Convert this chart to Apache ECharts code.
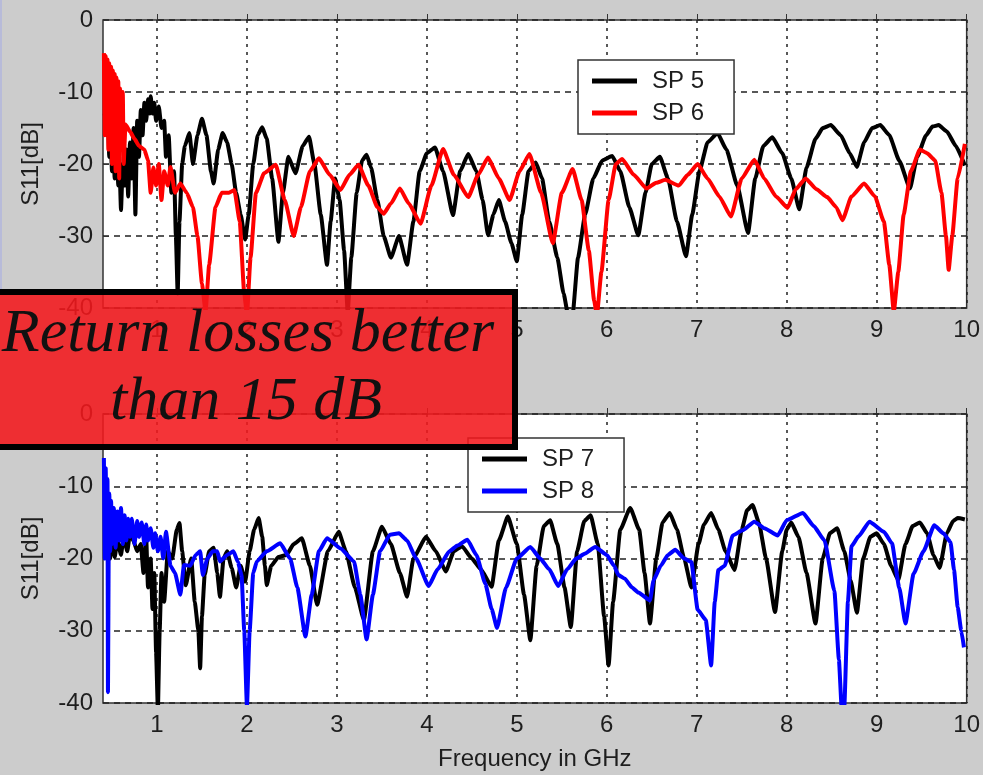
<!DOCTYPE html>
<html>
<head>
<meta charset="utf-8">
<script src="https://cdn.jsdelivr.net/npm/echarts@6/dist/echarts.min.js"></script>
<style>
html, body { margin: 0; padding: 0; background: #cccccc; }
#chart { width: 983px; height: 775px; }
</style>
</head>
<body>
<div id="chart"></div>
<script>
// tick labels
const xTicks = [1, 2, 3, 4, 5, 6, 7, 8, 9, 10]
const yTicks = [-40, -30, -20, -10, 0]

// top panel: SP 5 (black), SP 6 (red)  [GHz, dB]
const sp5 = [
  [0.42,-13],[0.44,-16],[0.45,-12.5],[0.47,-19],[0.48,-15],[0.50,-21],[0.51,-16],[0.53,-22],[0.55,-17],[0.57,-23],
  [0.58,-19],[0.60,-26.4],[0.62,-20],[0.64,-23],[0.66,-18],[0.68,-24.5],[0.70,-17],[0.72,-22],[0.74,-15],[0.76,-27],
  [0.78,-14],[0.80,-19],[0.82,-12.5],[0.84,-16],[0.86,-11.5],[0.88,-14],[0.90,-11],[0.92,-13],[0.93,-10.6],[0.95,-13],
  [0.97,-11.5],[0.99,-14],[1.02,-12],[1.05,-15],[1.08,-14],[1.10,-19],[1.13,-16],[1.16,-24],[1.19,-21],[1.21,-30],
  [1.23,-38],[1.25,-28],[1.28,-20],[1.31,-17.5],[1.36,-15.7],[1.40,-20],[1.45,-16],[1.50,-13.7],[1.55,-16],[1.60,-21],
  [1.63,-22.7],[1.68,-18],[1.73,-15.7],[1.78,-17],[1.83,-20],[1.88,-24],[1.93,-27],[1.98,-30.5],[2.02,-27],[2.07,-20],
  [2.12,-16],[2.17,-14.9],[2.22,-16.5],[2.28,-22],[2.35,-30.8],[2.40,-24],[2.46,-19],[2.54,-21.3],[2.62,-17.5],[2.69,-16.2],
  [2.75,-20],[2.82,-27],[2.89,-34],[2.93,-28],[2.98,-22],[3.03,-25],[3.08,-32],[3.12,-40.5],[3.16,-33],[3.22,-24],
  [3.28,-19.5],[3.33,-18.7],[3.38,-20.5],[3.45,-25],[3.52,-30],[3.60,-33],[3.69,-30],[3.78,-34],[3.85,-28],[3.92,-21],
  [4.00,-18.5],[4.09,-17.7],[4.18,-21],[4.29,-27.1],[4.37,-21],[4.46,-18.6],[4.55,-21],[4.62,-25],[4.68,-29.9],[4.74,-27],
  [4.80,-25],[4.87,-28],[4.94,-31],[5.00,-33.5],[5.06,-27],[5.13,-21],[5.21,-19.8],[5.28,-22],[5.36,-28],[5.45,-33],
  [5.52,-38],[5.57,-41],[5.62,-41],[5.68,-33],[5.76,-27],[5.85,-22],[5.95,-19.5],[6.06,-18.9],[6.15,-21],[6.25,-26],
  [6.35,-29.9],[6.43,-24],[6.50,-20],[6.59,-19],[6.68,-22],[6.78,-28],[6.88,-32.8],[6.95,-27],[7.03,-21],[7.12,-17],
  [7.23,-15.7],[7.33,-18],[7.45,-23],[7.57,-29.6],[7.65,-22],[7.74,-17.5],[7.84,-16.3],[7.95,-18.5],[8.05,-22],[8.14,-26.3],
  [8.22,-20.5],[8.32,-16.5],[8.40,-15],[8.49,-14.6],[8.60,-16],[8.70,-18.5],[8.78,-20.4],[8.86,-17],[8.95,-15],[9.04,-14.6],
  [9.14,-16],[9.25,-19.5],[9.37,-23.4],[9.45,-19],[9.55,-16],[9.62,-14.8],[9.69,-14.6],[9.78,-15.5],[9.88,-17.5],[9.98,-20.2]
]
const sp6 = [
  [0.41,-4.6],[0.42,-16],[0.43,-5],[0.44,-13],[0.45,-5.5],[0.46,-18],[0.47,-6],[0.48,-14],[0.49,-6.5],[0.50,-20],
  [0.51,-7],[0.52,-15],[0.53,-7.5],[0.54,-21],[0.55,-8],[0.56,-16],[0.57,-8.5],[0.58,-22],[0.59,-9.5],[0.60,-17],
  [0.62,-10],[0.63,-20],[0.65,-14.5],[0.70,-15.5],[0.75,-16.5],[0.80,-17.5],[0.86,-18],[0.90,-19.5],[0.93,-24],[0.96,-20.5],
  [0.99,-23],[1.02,-20],[1.05,-25],[1.08,-21],[1.12,-23],[1.15,-20.4],[1.20,-24],[1.26,-22.7],[1.33,-24],[1.40,-26],
  [1.45,-30],[1.50,-36.6],[1.54,-40.5],[1.58,-34],[1.65,-26],[1.72,-24],[1.80,-24],[1.86,-23.6],[1.92,-28],[1.97,-38],
  [2.00,-41],[2.04,-33],[2.10,-24],[2.19,-21.3],[2.32,-20.1],[2.42,-25],[2.52,-30],[2.60,-26],[2.70,-21],[2.80,-19.2],
  [2.92,-21.5],[3.04,-23.6],[3.14,-21.5],[3.24,-20.1],[3.35,-23],[3.45,-26],[3.52,-26.9],[3.60,-25.5],[3.70,-23.4],[3.80,-25.5],
  [3.93,-28.3],[4.05,-23],[4.18,-17.9],[4.30,-21.5],[4.46,-24.6],[4.57,-21.5],[4.68,-19.1],[4.80,-22],[4.92,-25],[5.03,-21],
  [5.14,-18.6],[5.27,-24],[5.40,-31],[5.50,-24],[5.62,-20.7],[5.72,-25],[5.80,-32],[5.86,-39],[5.89,-41],[5.94,-35],
  [6.02,-25],[6.10,-20],[6.17,-19.3],[6.30,-21.5],[6.44,-23.4],[6.55,-22.6],[6.65,-22.2],[6.80,-23],[6.90,-21.5],[7.01,-20],
  [7.12,-22],[7.25,-24.5],[7.38,-27.3],[7.50,-22],[7.64,-19.4],[7.75,-22],[7.88,-24.5],[8.01,-26.1],[8.10,-23.5],[8.21,-22],
  [8.33,-23.5],[8.45,-24.6],[8.55,-26],[8.62,-27.8],[8.72,-24.5],[8.86,-22.7],[8.98,-24.5],[9.08,-28],[9.14,-34],[9.19,-40.5],
  [9.24,-35],[9.30,-27],[9.38,-21],[9.48,-18],[9.56,-18.5],[9.65,-19.5],[9.72,-24],[9.77,-30],[9.80,-34.7],[9.84,-30],
  [9.90,-22],[9.98,-17.2]
]

// bottom panel: SP 7 (black), SP 8 (blue)
const sp7 = [
  [0.45,-18],[0.48,-20],[0.50,-17],[0.53,-19.8],[0.56,-17.5],[0.60,-19.5],[0.63,-17],[0.67,-19],[0.70,-16.5],[0.74,-17.6],
  [0.78,-19],[0.82,-18],[0.85,-22],[0.88,-17],[0.90,-24],[0.93,-20],[0.95,-27],[0.97,-22],[0.99,-33],[1.01,-41],
  [1.03,-30],[1.05,-22],[1.08,-26],[1.12,-19],[1.17,-20],[1.22,-16],[1.25,-15.1],[1.28,-19],[1.32,-23.7],[1.38,-20],
  [1.42,-26],[1.46,-30],[1.48,-35.2],[1.50,-28],[1.53,-22.3],[1.58,-19],[1.63,-18.5],[1.67,-22],[1.70,-25.3],[1.74,-20],
  [1.78,-19],[1.83,-21.3],[1.88,-24],[1.93,-21],[1.98,-23.2],[2.03,-19],[2.08,-16],[2.13,-14.4],[2.17,-17],[2.20,-21],
  [2.22,-23.7],[2.27,-21],[2.35,-19.8],[2.44,-19.5],[2.52,-18],[2.61,-17.2],[2.70,-21],[2.78,-26.4],[2.90,-19],[3.02,-16.3],
  [3.10,-19],[3.20,-24],[3.30,-28.5],[3.40,-19],[3.50,-15.6],[3.60,-18],[3.70,-22],[3.78,-25.3],[3.85,-20],[3.99,-17],
  [4.10,-19],[4.21,-21.8],[4.30,-19],[4.39,-18.3],[4.50,-20],[4.60,-21.5],[4.72,-23.9],[4.80,-17.5],[4.90,-14.2],[5.00,-18],
  [5.08,-25],[5.15,-31.3],[5.22,-21],[5.30,-15.5],[5.37,-14.7],[5.45,-18],[5.53,-24],[5.60,-29.5],[5.67,-19],[5.75,-14.8],
  [5.82,-14],[5.90,-18],[5.97,-28],[6.02,-34.8],[6.07,-26],[6.15,-16],[6.26,-13],[6.36,-16],[6.42,-22],[6.48,-29],
  [6.55,-20],[6.62,-15],[6.70,-13.7],[6.78,-16],[6.86,-20],[6.94,-24],[7.02,-18],[7.08,-15.3],[7.16,-13.7],[7.24,-16],
  [7.32,-19],[7.42,-21.6],[7.50,-16],[7.56,-13.3],[7.62,-12.6],[7.69,-15],[7.77,-20],[7.87,-27.4],[7.95,-19],[8.00,-16],
  [8.05,-15],[8.13,-17],[8.22,-22],[8.32,-29],[8.40,-20],[8.48,-16.5],[8.56,-15.8],[8.64,-19],[8.71,-23],[8.78,-27.5],
  [8.85,-20],[8.93,-17],[9.00,-16.5],[9.08,-18],[9.16,-21],[9.24,-23],[9.32,-18],[9.40,-15.5],[9.48,-15],[9.56,-16.5],
  [9.63,-19.5],[9.70,-21.3],[9.78,-16.5],[9.85,-14.8],[9.90,-14.4],[9.98,-14.6]
]
const sp8 = [
  [0.41,-6.1],[0.42,-20],[0.43,-7.5],[0.44,-18],[0.45,-9],[0.455,-38.5],[0.465,-16],[0.47,-11],[0.48,-19],[0.49,-12],
  [0.50,-18],[0.52,-13],[0.54,-18.5],[0.56,-13.5],[0.58,-17.5],[0.60,-13],[0.62,-18],[0.64,-14],[0.66,-17.5],[0.68,-14.5],
  [0.70,-17],[0.72,-14.5],[0.75,-18],[0.78,-14.8],[0.80,-17],[0.83,-15],[0.86,-18],[0.88,-15.3],[0.90,-17.5],[0.93,-15.8],
  [0.96,-18.5],[0.98,-16.5],[1.01,-19],[1.04,-17],[1.07,-20],[1.10,-16.3],[1.15,-21],[1.20,-22],[1.26,-25],[1.30,-20.9],
  [1.37,-21],[1.43,-19.5],[1.48,-19],[1.51,-22.3],[1.56,-20],[1.62,-19],[1.67,-19],[1.70,-20.4],[1.78,-19.5],[1.85,-19],
  [1.90,-20.5],[1.94,-22.3],[1.97,-30],[2.00,-40.5],[2.03,-30],[2.07,-22],[2.11,-20.4],[2.22,-19],[2.37,-17.9],[2.48,-20],
  [2.56,-24],[2.65,-30.8],[2.72,-25],[2.80,-19],[2.89,-17.2],[3.04,-18.6],[3.19,-20.4],[3.26,-25],[3.33,-31.2],[3.40,-25],
  [3.48,-19],[3.59,-16.7],[3.69,-16.5],[3.78,-17.5],[3.88,-20],[4.02,-23.8],[4.12,-21.5],[4.25,-19],[4.34,-18.2],[4.45,-17.4],
  [4.55,-19.5],[4.65,-23.5],[4.72,-27],[4.78,-29.6],[4.88,-24],[5.00,-20],[5.15,-18.4],[5.26,-20],[5.36,-21.5],[5.46,-23.8],
  [5.56,-21.5],[5.66,-20],[5.76,-19.3],[5.87,-18.4],[6.00,-19.5],[6.08,-21],[6.13,-22.3],[6.20,-22.8],[6.28,-24],[6.35,-24.7],
  [6.48,-25.8],[6.52,-23],[6.60,-21],[6.68,-19.5],[6.76,-18.8],[6.86,-20],[6.94,-20.5],[7.01,-27.1],[7.10,-28.5],[7.16,-34.8],
  [7.20,-26],[7.24,-21.6],[7.31,-21],[7.40,-16.8],[7.51,-16.1],[7.64,-14.9],[7.75,-15.8],[7.90,-16.8],[8.00,-14.7],[8.18,-13.7],
  [8.30,-15.5],[8.42,-17.5],[8.53,-24.5],[8.58,-34],[8.61,-40.5],[8.64,-40.5],[8.68,-26],[8.72,-18.3],[8.80,-16.9],[8.92,-14.9],
  [9.08,-16.3],[9.17,-17.9],[9.25,-24],[9.32,-29],[9.41,-22.1],[9.52,-19],[9.64,-15.4],[9.74,-16.5],[9.82,-17.7],[9.86,-21.6],
  [9.90,-26.7],[9.94,-30],[9.97,-32.3]
]

const fontSans = "'Liberation Sans', Arial, sans-serif"
const inkColor = '#1e1e1e'

const chart = echarts.init(document.getElementById('chart'))

const makeX = (gridIndex, title) => ({
  type: 'value',
  gridIndex: gridIndex,
  min: 0.4,
  max: 10,
  axisLine: { show: false },
  axisTick: { show: true, inside: true, length: 6, customValues: xTicks, lineStyle: { color: '#333' } },
  axisLabel: { customValues: xTicks, color: inkColor, fontSize: 24, fontFamily: fontSans, margin: 10 },
  splitLine: { show: true, lineStyle: { color: '#222', type: [3, 5], width: 1.5 } },
  name: title,
  nameLocation: 'middle',
  nameGap: 44,
  nameTextStyle: { color: inkColor, fontSize: 24, fontFamily: fontSans },
})

const makeY = (gridIndex) => ({
  type: 'value',
  gridIndex: gridIndex,
  min: -40,
  max: 0,
  interval: 10,
  axisLine: { show: false },
  axisTick: { show: true, inside: true, length: 6, lineStyle: { color: '#333' } },
  axisLabel: { color: inkColor, fontSize: 24, fontFamily: fontSans, margin: 10 },
  splitLine: { show: true, lineStyle: { color: '#222', type: [6, 5], width: 1.5 } },
  name: 'S11[dB]',
  nameLocation: 'middle',
  nameRotate: 90,
  nameGap: 60,
  nameTextStyle: { color: inkColor, fontSize: 24, fontFamily: fontSans },
})

const makeLegend = (names, left, top) => ({
  data: names,
  left: left,
  top: top,
  orient: 'vertical',
  selectedMode: false,
  icon: 'rect',
  itemWidth: 45,
  itemHeight: 5,
  itemGap: 6,
  padding: [8, 30, 8, 14],
  backgroundColor: '#ffffff',
  borderColor: '#333',
  borderWidth: 1.5,
  textStyle: { color: inkColor, fontSize: 24, fontFamily: fontSans, lineHeight: 26, padding: [0, 0, 0, 10] },
})

const makeLine = (name, data, color, axisIndex) => ({
  name: name,
  type: 'line',
  data: data,
  xAxisIndex: axisIndex,
  yAxisIndex: axisIndex,
  symbol: 'none',
  showSymbol: false,
  clip: true,
  smooth: 0.15,
  smoothMonotone: 'x',
  itemStyle: { color: color },
  lineStyle: { color: color, width: 4 },
})

const option = {
  animation: false,
  backgroundColor: '#cccccc',
  grid: [
    { left: 103, top: 20, width: 867, height: 288, show: true, backgroundColor: '#ffffff', borderColor: '#333', borderWidth: 1.5 },
    { left: 103, top: 414, width: 867, height: 289, show: true, backgroundColor: '#ffffff', borderColor: '#333', borderWidth: 1.5 },
  ],
  xAxis: [makeX(0, ''), makeX(1, 'Frequency in GHz')],
  yAxis: [makeY(0), makeY(1)],
  legend: [
    makeLegend(['SP 5', 'SP 6'], 578, 60),
    makeLegend(['SP 7', 'SP 8'], 468, 438),
  ],
  series: [
    makeLine('SP 5', sp5, '#000000', 0),
    makeLine('SP 6', sp6, '#ff0000', 0),
    makeLine('SP 7', sp7, '#000000', 1),
    makeLine('SP 8', sp8, '#0000ff', 1),
  ],
  graphic: [
    { type: 'rect', z: 100, shape: { x: 0, y: 0, width: 2, height: 290 }, style: { fill: '#b8bbd9' } },
    {
      type: 'rect', z: 100,
      shape: { x: -10, y: 292, width: 525, height: 155 },
      style: { fill: 'rgba(242, 24, 28, 0.88)', stroke: '#000', lineWidth: 6 },
    },
    {
      type: 'text', z: 101, x: 248, y: 335,
      style: { text: 'Return losses better', fontSize: 62, fontStyle: 'italic', fontFamily: "'Liberation Serif', 'Times New Roman', serif", fill: '#111', align: 'center', verticalAlign: 'middle' },
    },
    {
      type: 'text', z: 101, x: 246, y: 403,
      style: { text: 'than 15 dB', fontSize: 62, fontStyle: 'italic', fontFamily: "'Liberation Serif', 'Times New Roman', serif", fill: '#111', align: 'center', verticalAlign: 'middle' },
    },
  ],
}

chart.setOption(option)
</script>
</body>
</html>
